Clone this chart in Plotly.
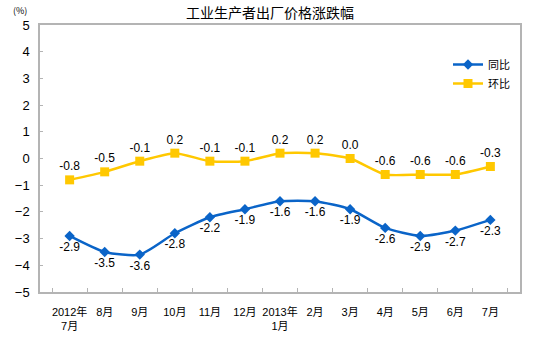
import plotly.graph_objects as go

categories = ["2012年<br>7月", "8月", "9月", "10月", "11月", "12月", "2013年<br>1月",
              "2月", "3月", "4月", "5月", "6月", "7月"]
yoy = [-2.9, -3.5, -3.6, -2.8, -2.2, -1.9, -1.6, -1.6, -1.9, -2.6, -2.9, -2.7, -2.3]
mom = [-0.8, -0.5, -0.1, 0.2, -0.1, -0.1, 0.2, 0.2, 0.0, -0.6, -0.6, -0.6, -0.3]

blue = "#0A64C8"
yellow = "#FFC800"
font_fam = "Liberation Sans, Arial, Noto Sans CJK SC, sans-serif"

fig = go.Figure()
fig.add_trace(go.Scatter(
    x=categories, y=yoy, name="同比", mode="lines+markers+text",
    line=dict(color=blue, width=2.5, shape="spline", smoothing=0.6),
    marker=dict(symbol="diamond", size=8, color=blue),
    text=[f"{v:.1f}" for v in yoy], textposition="bottom center",
    textfont=dict(size=12, color="black", family=font_fam),
))
fig.add_trace(go.Scatter(
    x=categories, y=mom, name="环比", mode="lines+markers+text",
    line=dict(color=yellow, width=2.5, shape="spline", smoothing=0.6),
    marker=dict(symbol="square", size=9, color=yellow),
    text=[f"{v:.1f}" for v in mom], textposition="top center",
    textfont=dict(size=12, color="black", family=font_fam),
))

ph = 353 - 25 - 61
pw = 543 - 40 - 23

fig.update_layout(
    width=543, height=353,
    margin=dict(l=40, r=23, t=25, b=61),
    paper_bgcolor="white", plot_bgcolor="white",
    font=dict(family=font_fam, color="black"),
    showlegend=True,
    legend=dict(x=0.85, y=1 - (50 - 25) / ph, xanchor="left", yanchor="top",
                bgcolor="rgba(0,0,0,0)", font=dict(size=11, family="Noto Sans CJK SC"),
                itemwidth=30, tracegroupgap=2),
    annotations=[
        dict(text="工业生产者出厂价格涨跌幅", x=(270 - 40) / pw, y=1 + (25 - 12) / ph,
             xref="paper", yref="paper", yanchor="middle", showarrow=False,
             font=dict(size=14, family="Noto Sans CJK SC", color="black")),
        dict(text="(%)", x=(20 - 40) / pw, y=1 + (25 - 10) / ph, xref="paper", yref="paper",
             xanchor="center", yanchor="middle", showarrow=False,
             font=dict(size=9, family="Noto Sans CJK SC", color="black")),
    ],
)

fig.update_xaxes(
    type="category", showgrid=False, showline=True, linecolor="#B4B4B4", linewidth=1.5,
    mirror=True, ticks="inside", ticklen=4, tickcolor="#B4B4B4", tickson="boundaries",
    tickangle=0, ticklabelstandoff=9,
    tickfont=dict(size=11, family="Liberation Sans, Noto Sans CJK SC"),
)
fig.update_yaxes(
    range=[-5, 5], dtick=1, showgrid=False, zeroline=False, showline=True,
    linecolor="#B4B4B4", linewidth=1.5, mirror=True, ticks="inside", ticklen=3,
    tickcolor="#B4B4B4", tickfont=dict(size=13), ticklabelstandoff=6,
)

fig.write_html("out.html")
